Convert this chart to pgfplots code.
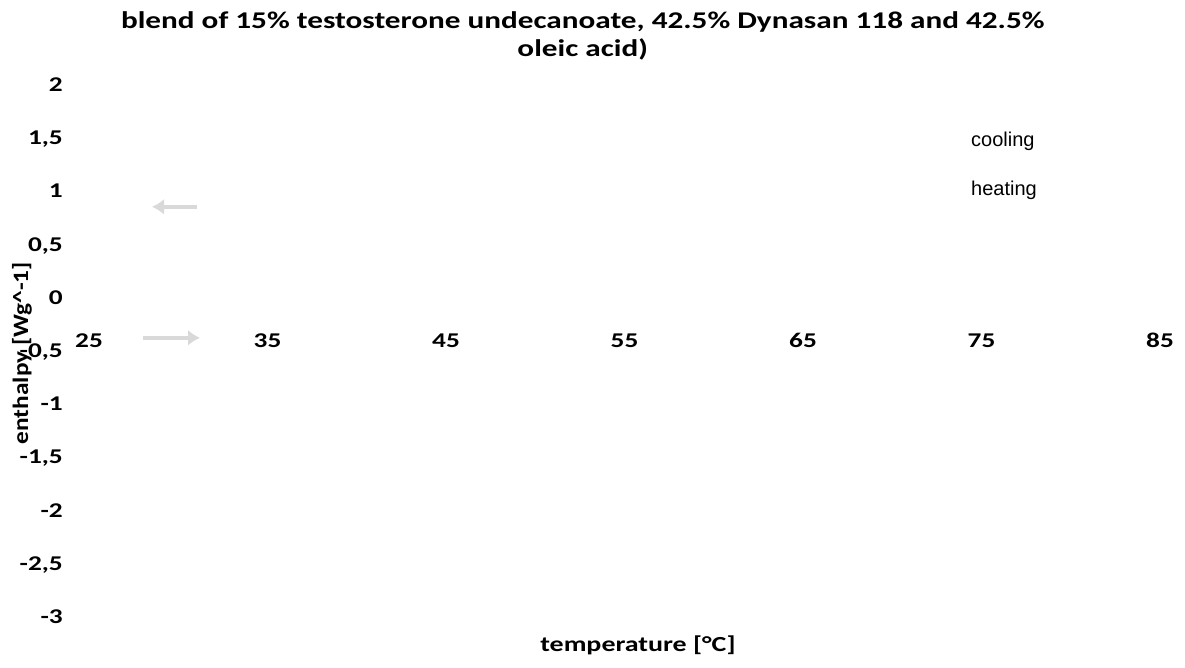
\documentclass[border=0pt]{standalone}
\usepackage{fontspec}
\setmainfont{Carlito}[FakeStretch=1.3]
\newfontfamily\ylabfont{Carlito}[FakeStretch=1.15]
\newfontfamily\arialfont{Liberation Sans}
\usepackage{pgfplots}
\pgfplotsset{compat=1.18}
\usetikzlibrary{arrows.meta}
\begin{document}
\begin{tikzpicture}[x=1pt,y=1pt]
\useasboundingbox (0,0) rectangle (1185,668);
\begin{axis}[
  at={(89pt,51pt)}, anchor=south west, scale only axis,
  width=1071pt, height=532pt,
  xmin=25, xmax=85, ymin=-3, ymax=2,
  axis line style={draw=none},
  major tick length=0pt,
  xtick={25,35,45,55,65,75,85},
  ytick={-3,-2.5,-2,-1.5,-1,-0.5,0,0.5,1,1.5,2},
  /pgf/number format/use comma,
  /pgf/number format/1000 sep={},
  /pgf/number format/assume math mode=true,
  tick label style={font=\fontsize{21}{25}\selectfont\bfseries, inner sep=0pt, text height=13pt, text depth=0pt},
  yticklabel style={anchor=east, xshift=-26pt},
  xticklabel style={anchor=center, yshift=276pt},
  title={blend of 15\% testosterone undecanoate, 42.5\% Dynasan 118 and 42.5\%\\oleic acid)},
  title style={at={(axis description cs:0.461,1.081)}, anchor=center, align=center, font=\fontsize{24}{28.5}\selectfont\bfseries},
  xlabel={temperature [°C]},
  xlabel style={at={(axis description cs:0.5126,-0.0526)}, anchor=center, font=\fontsize{21.5}{26}\selectfont\bfseries},
  ylabel={enthalpy [Wg\textasciicircum-1]},
  ylabel style={at={(axis description cs:-0.0626,0.496)}, anchor=center, font=\ylabfont\fontsize{22}{26}\selectfont\bfseries},
  legend style={at={(axis description cs:0.8235,0.9126)}, anchor=north west, draw=none, fill=none,
    font=\arialfont\fontsize{20}{24}\selectfont, row sep=30pt, inner sep=0pt,
    nodes={inner sep=0pt, text height=15pt, text depth=4pt}},
  legend cell align=left,
]
\addplot[forget plot, color=black!15, line width=4.5pt, -{Latex[length=12pt,width=16pt]}] coordinates {(31.05,0.855) (28.53,0.855)};
\addplot[forget plot, color=black!15, line width=4.5pt, -{Latex[length=12pt,width=16pt]}] coordinates {(28.03,-0.376) (31.22,-0.376)};
\addlegendimage{empty legend}
\addlegendentry{cooling}
\addlegendimage{empty legend}
\addlegendentry{heating}
\end{axis}
\end{tikzpicture}
\end{document}
